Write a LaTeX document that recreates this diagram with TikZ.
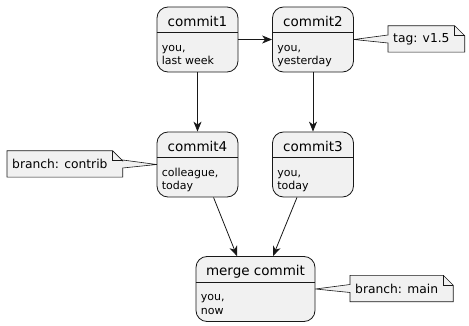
\documentclass[tikz,border=0pt]{standalone}
\usepackage{fontspec}
\setmainfont{DejaVu Sans}
\usetikzlibrary{arrows.meta,positioning,calc,backgrounds}
\definecolor{boxfill}{HTML}{F1F1F1}
\definecolor{boxline}{HTML}{181818}

\begin{document}
\begin{tikzpicture}[x=1pt, y=-1pt,
    commit/.style={rectangle, draw=boxline, fill=boxfill, rounded corners=11pt, line width=0.8pt, minimum width=81pt, minimum height=65pt, inner sep=0pt},
    title/.style={font=\fontsize{13.5}{16}\selectfont, inner sep=0pt, anchor=base},
    body/.style={font=\fontsize{11}{13.5}\selectfont, align=left, inner sep=0pt, anchor=base west},
    sep/.style={draw=boxline, line width=0.8pt},
    note/.style={font=\fontsize{12.3}{14}\selectfont, inner xsep=5pt, inner ysep=0pt, minimum height=26pt, anchor=west},
    noteline/.style={draw=boxline, fill=boxfill, line width=0.6pt, line join=miter},
    link/.style={-{Stealth[length=10pt, width=8pt, inset=3pt]}, line width=0.8pt, draw=boxline}
]
\useasboundingbox (0,0) rectangle (469,326);

% Commits
\node[commit] (c1) at (197.5,39.5) {};
\node[commit] (c2) at (313,39.5) {};
\node[commit] (c4) at (197.5,164.5) {};
\node[commit] (c3) at (313,164.5) {};
\node[commit, minimum width=119pt] (m) at (255.5,289) {};

% Header separators
\foreach \c in {c1,c2,c3,c4,m}
  \draw[sep] ($(\c.north west)+(0,26)$) -- ($(\c.north east)+(0,26)$);

% Titles
\node[title] (c1t) at ($(c1.north)+(0,19.5)$) {commit1};
\node[title] (c2t) at ($(c2.north)+(0,19.5)$) {commit2};
\node[title] (c4t) at ($(c4.north)+(0,19.5)$) {commit4};
\node[title] (c3t) at ($(c3.north)+(0,19.5)$) {commit3};
\node[title] (mt) at ($(m.north)+(0,19.5)$) {merge commit};

% Bodies (base = last line)
\node[body] (c1b) at ($(c1.north west)+(5,58)$) {you,\\last week};
\node[body] (c2b) at ($(c2.north west)+(5,58)$) {you,\\yesterday};
\node[body] (c4b) at ($(c4.north west)+(5,58)$) {colleague,\\today};
\node[body] (c3b) at ($(c3.north west)+(5,58)$) {you,\\today};
\node[body] (mb) at ($(m.north west)+(5,58)$) {you,\\now};

% Notes
\node[note] (tag) at (388,39) {tag: v1.5};
\node[note] (contrib) at (7,164) {branch: contrib};
\node[note] (main) at (350,288.5) {branch: main};

\begin{scope}[on background layer]
\draw[noteline] (tag.north west) -- (tag.north east) -- ($(tag.north east)+(10,10)$)
  -- ($(tag.south east)+(10,0)$) -- (tag.south west) -- ($(tag.west)+(0,4)$)
  -- (c2.east) -- ($(tag.west)+(0,-4)$) -- cycle;
\draw[noteline] (contrib.north west) -- (contrib.north east) -- ($(contrib.north east)+(10,10)$)
  -- ($(contrib.east)+(10,-4)$) -- (c4.west) -- ($(contrib.east)+(10,4)$)
  -- ($(contrib.south east)+(10,0)$) -- (contrib.south west) -- cycle;
\draw[noteline] (main.north west) -- (main.north east) -- ($(main.north east)+(10,10)$)
  -- ($(main.south east)+(10,0)$) -- (main.south west) -- ($(main.west)+(0,4)$)
  -- (m.east) -- ($(main.west)+(0,-4)$) -- cycle;
\end{scope}

% Note folds
\foreach \n in {tag,contrib,main}
  \draw[noteline, fill=none] (\n.north east) -- ++(0,10) -- ++(10,0);

% Arrows
\draw[link] (c1.east) -- (c2.west);
\draw[link] (c1.south) -- (c4.north);
\draw[link] (c2.south) -- (c3.north);
\draw[link] ([xshift=16pt]c4.south) -- ([xshift=-18.5pt]m.north);
\draw[link] ([xshift=-16pt]c3.south) -- ([xshift=17.5pt]m.north);

\end{tikzpicture}
\end{document}
